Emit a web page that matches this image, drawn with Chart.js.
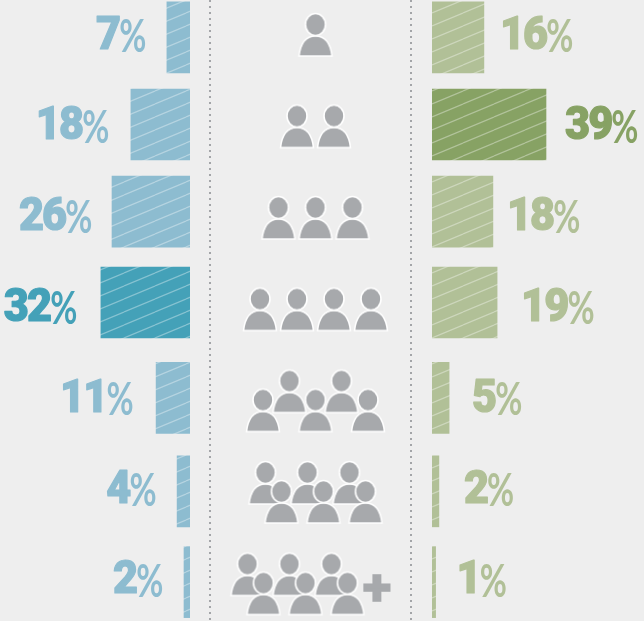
<!DOCTYPE html>
<html>
<head>
<meta charset="utf-8">
<script src="https://cdn.jsdelivr.net/npm/chart.js@4/dist/chart.umd.min.js"></script>
<style>
  html, body { margin: 0; padding: 0; background: #eeeeee; overflow: hidden; }
  #wrap { position: relative; width: 644px; height: 621px; }
  canvas { position: absolute; top: 0; }
  #leftChart { left: 0; }
  #crowdChart { left: 200px; }
  #rightChart { left: 432px; }
</style>
</head>
<body>
<div id="wrap">
  <canvas id="leftChart" width="190" height="621"></canvas>
  <canvas id="crowdChart" width="220" height="621"></canvas>
  <canvas id="rightChart" width="212" height="621"></canvas>
</div>
<script>
// printed percentages
const leftLabels = ["7%", "18%", "26%", "32%", "11%", "4%", "2%"];
const rightLabels = ["16%", "39%", "18%", "19%", "5%", "2%", "1%"];
// bar lengths
const leftValues = [7.7, 19.7, 26, 29.7, 11.3, 4.3, 2];
const rightValues = [17.3, 38, 20.3, 21.7, 5.7, 2.3, 1.2];
// the bars sit slightly off the even rows
const barRows = [0.02, 0.98, 1.94, 2.94, 3.99, 5.02, 6.02];
const crowdSizes = [1, 2, 3, 4, 5, 6, 6];
const crowdPlus = [false, false, false, false, false, false, true];
const leftHighlight = 3;
const rightHighlight = 1;
// space between bar end and its label, the source is not regular here
const leftGaps = [22, 23, 21, 25, 24, 22, 22];
const rightGaps = [16, 19, 14, 24, 23, 25, 21];

const LEFT_LIGHT = "#8dbcd0";
const LEFT_DARK = "#44a1b8";
const RIGHT_LIGHT = "#b1c097";
const RIGHT_DARK = "#87a264";
const GREY = "#a7a9ac";

function hatch(color) {
  let c = document.createElement("canvas");
  c.width = 31;
  c.height = 13;
  let g = c.getContext("2d");
  g.fillStyle = color;
  g.fillRect(0, 0, 31, 13);
  g.strokeStyle = "rgba(255,255,255,0.36)";
  g.lineWidth = 1.2;
  for (let k = -1; k <= 1; k++) {
    g.beginPath();
    g.moveTo(0, 13 + k * 13);
    g.lineTo(31, k * 13);
    g.stroke();
  }
  return g.createPattern(c, "repeat");
}

function personIcon() {
  let c = document.createElement("canvas");
  c.width = 40;
  c.height = 50;
  let g = c.getContext("2d");
  g.fillStyle = GREY;
  g.strokeStyle = "#ffffff";
  g.lineWidth = 1.6;
  g.beginPath();
  g.moveTo(3.5, 46);
  g.bezierCurveTo(5, 33, 11, 26, 20, 26);
  g.bezierCurveTo(29, 26, 35, 33, 36.5, 46);
  g.closePath();
  g.fill();
  g.stroke();
  g.beginPath();
  g.ellipse(20, 14.5, 10, 11, 0, 0, Math.PI * 2);
  g.fill();
  g.stroke();
  return c;
}

// places the people of one row around the middle of the column
function crowdPoints(size, row, plus) {
  let mid = plus ? -12.5 : 5.5;
  let pts = [];
  if (size < 5) {
    for (let k = 0; k < size; k++) {
      pts.push({ x: mid + (k - (size - 1) / 2) * 37, y: row });
    }
  } else if (size == 5) {
    pts.push({ x: mid - 26, y: row - 0.104 });
    pts.push({ x: mid + 26, y: row - 0.104 });
    for (let k = -1; k <= 1; k++) pts.push({ x: mid + k * 52.5, y: row + 0.104 });
  } else {
    for (let k = -1; k <= 1; k++) pts.push({ x: mid - 8 + k * 42, y: row - 0.104 });
    for (let k = -1; k <= 1; k++) pts.push({ x: mid + 8 + k * 42, y: row + 0.104 });
  }
  return pts;
}

function percentText(ctx, text, x, y, color, side) {
  let digits = text.slice(0, -1);
  ctx.save();
  ctx.fillStyle = color;
  ctx.strokeStyle = color;
  ctx.lineWidth = 1.2;
  ctx.lineJoin = "round";
  ctx.textBaseline = "middle";
  ctx.textAlign = "left";
  ctx.letterSpacing = "-2px";
  ctx.font = "900 46px Roboto";
  let w1 = ctx.measureText(digits).width * 0.94;
  ctx.font = "700 46px Lato";
  let w2 = ctx.measureText("%").width * 0.72;
  let start = side == "left" ? x - w1 - w2 : x;
  ctx.translate(start, y + 1.5);
  ctx.save();
  ctx.scale(0.94, 1);
  ctx.font = "900 46px Roboto";
  ctx.fillText(digits, 0, 0);
  ctx.strokeText(digits, 0, 0);
  ctx.restore();
  ctx.translate(w1, 0);
  ctx.scale(0.72, 1);
  ctx.font = "700 46px Lato";
  ctx.fillText("%", 0, 0);
  ctx.restore();
}

const barLabels = {
  id: "barLabels",
  afterDatasetsDraw(chart, args, opts) {
    let ctx = chart.ctx;
    let yScale = chart.scales.y;
    chart.getDatasetMeta(0).data.forEach((bar, i) => {
      let x = opts.side == "left" ? bar.x - opts.gaps[i] : bar.x + opts.gaps[i];
      let color = i == opts.highlight ? opts.dark : opts.light;
      percentText(ctx, opts.texts[i], x, yScale.getPixelForValue(i), color, opts.side);
    });
  },
};

const plusSign = {
  id: "plusSign",
  afterDatasetsDraw(chart) {
    let ctx = chart.ctx;
    crowdPlus.forEach((on, i) => {
      if (!on) return;
      ctx.save();
      ctx.fillStyle = GREY;
      ctx.strokeStyle = GREY;
      ctx.lineWidth = 3.5;
      ctx.lineJoin = "miter";
      ctx.font = "900 48px Lato";
      ctx.textAlign = "center";
      ctx.textBaseline = "middle";
      let px = chart.scales.x.getPixelForValue(67);
      let py = chart.scales.y.getPixelForValue(i + 0.05);
      ctx.fillText("+", px, py);
      ctx.strokeText("+", px, py);
      ctx.restore();
    });
  },
};

function barChart(id, labels, values, highlight, light, dark, side, xMax, gaps) {
  let bars = values.map((v, i) => ({ x: v, y: barRows[i] }));
  return new Chart(document.getElementById(id), {
    type: "bar",
    data: {
      datasets: [
        {
          data: bars,
          backgroundColor: values.map((v, i) => hatch(i == highlight ? dark : light)),
          barThickness: 71,
          borderWidth: 0,
        },
      ],
    },
    options: {
      indexAxis: "y",
      responsive: false,
      animation: false,
      layout: { padding: 0, autoPadding: false },
      plugins: {
        legend: { display: false },
        tooltip: { enabled: false },
        barLabels: {
          texts: labels,
          side: side,
          gaps: gaps,
          highlight: highlight,
          light: light,
          dark: dark,
        },
      },
      scales: {
        x: { type: "linear", display: false, min: 0, max: xMax, reverse: side == "left" },
        y: { type: "linear", display: false, min: -0.391, max: 6.448, reverse: true, offset: false },
      },
    },
    plugins: [barLabels],
  });
}

barChart("leftChart", leftLabels, leftValues, leftHighlight, LEFT_LIGHT, LEFT_DARK, "left", 63.33, leftGaps);
barChart("rightChart", rightLabels, rightValues, rightHighlight, RIGHT_LIGHT, RIGHT_DARK, "right", 70.67, rightGaps);

let person = personIcon();
let people = [];
crowdSizes.forEach((size, i) => {
  people = people.concat(crowdPoints(size, i, crowdPlus[i]));
});

new Chart(document.getElementById("crowdChart"), {
  type: "scatter",
  data: {
    datasets: [
      {
        data: people,
        pointStyle: person,
        pointRadius: 20,
        showLine: false,
      },
    ],
  },
  options: {
    responsive: false,
    animation: false,
    layout: { padding: 0, autoPadding: false },
    plugins: { legend: { display: false }, tooltip: { enabled: false } },
    scales: {
      x: {
        type: "linear",
        min: -110,
        max: 110,
        afterBuildTicks: (axis) => {
          axis.ticks = [{ value: -100 }, { value: 101 }];
        },
        ticks: { display: false },
        border: { display: false, dash: [2, 4] },
        grid: { color: "#a3a5a8", lineWidth: 2, drawTicks: false },
      },
      y: { type: "linear", display: false, min: -0.3825, max: 6.404, reverse: true },
    },
  },
  plugins: [plusSign],
});
</script>
</body>
</html>
